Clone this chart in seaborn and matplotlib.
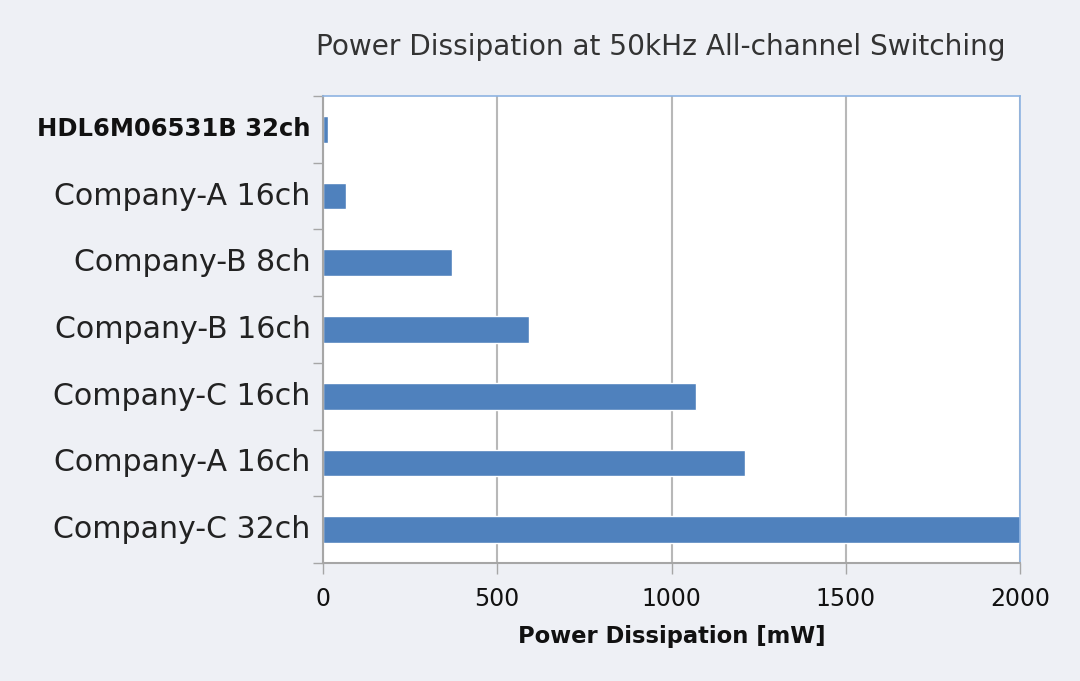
import pandas as pd
import matplotlib
matplotlib.use("Agg")
import matplotlib.pyplot as plt
import seaborn as sns

# data (top to bottom)
devices = ["HDL6M06531B 32ch", "Company-A 16ch", "Company-B 8ch", "Company-B 16ch",
           "Company-C 16ch", "Company-A 16ch", "Company-C 32ch"]
power_mw = [14, 66, 370, 590, 1070, 1210, 2000]
x_ticks = [0, 500, 1000, 1500, 2000]

bg = "#eef0f5"
bar_color = "#4f81bd"

df = pd.DataFrame({"slot": list(range(len(devices))), "power": power_mw})

sns.set_theme(style="white")
plt.rcParams["font.family"] = ["DejaVu Sans"]

fig = plt.figure(figsize=(10.8, 6.81), dpi=100, facecolor=bg)
ax = fig.add_axes([323 / 1080, 1 - 563 / 681, 697 / 1080, 467 / 681])
ax.set_facecolor("white")

sns.barplot(data=df, x="power", y="slot", orient="y", color=bar_color,
            width=0.4, saturation=1, ax=ax)

ax.set_xlim(0, 2000)
ax.set_ylim(len(devices) - 0.5, -0.5)
ax.set_xticks(x_ticks)
ax.set_xticklabels([str(t) for t in x_ticks], fontsize=17, color="#111")
ax.set_yticks(range(len(devices)))
# va="center" lifts the labels a little above the bar centre, as in the original
ax.set_yticklabels(devices, fontsize=21.6, color="#222", va="center")
first = ax.get_yticklabels()[0]
first.set_fontweight("bold")
first.set_fontsize(17.5)
first.set_color("#111")

# category boundary ticks on the left
ax.set_yticks([i - 0.5 for i in range(len(devices) + 1)], minor=True)
ax.tick_params(axis="y", which="major", length=0, pad=9)
ax.tick_params(axis="y", which="minor", length=7, width=1, color="#a6a6a6", direction="out", left=True)
ax.tick_params(axis="x", which="major", length=8, width=1, color="#a6a6a6", direction="out", bottom=True, pad=9)

ax.xaxis.grid(True, color="#b8b8b8", linewidth=1.5)
ax.set_axisbelow(True)

for side in ["left", "bottom"]:
    ax.spines[side].set_color("#a6a6a6")
    ax.spines[side].set_linewidth(1.5)
for side in ["top", "right"]:
    ax.spines[side].set_color("#8db3e2")
    ax.spines[side].set_linewidth(1.2)

ax.set_ylabel("")
ax.set_xlabel("Power Dissipation [mW]", fontsize=16.3, fontweight="bold",
              color="#111", labelpad=10)

fig.text(661 / 1080, 1 - 47 / 681, "Power Dissipation at 50kHz All-channel Switching",
         ha="center", va="center", fontsize=20.2, color="#333")

fig.savefig("out.png", dpi=100, facecolor=bg)
